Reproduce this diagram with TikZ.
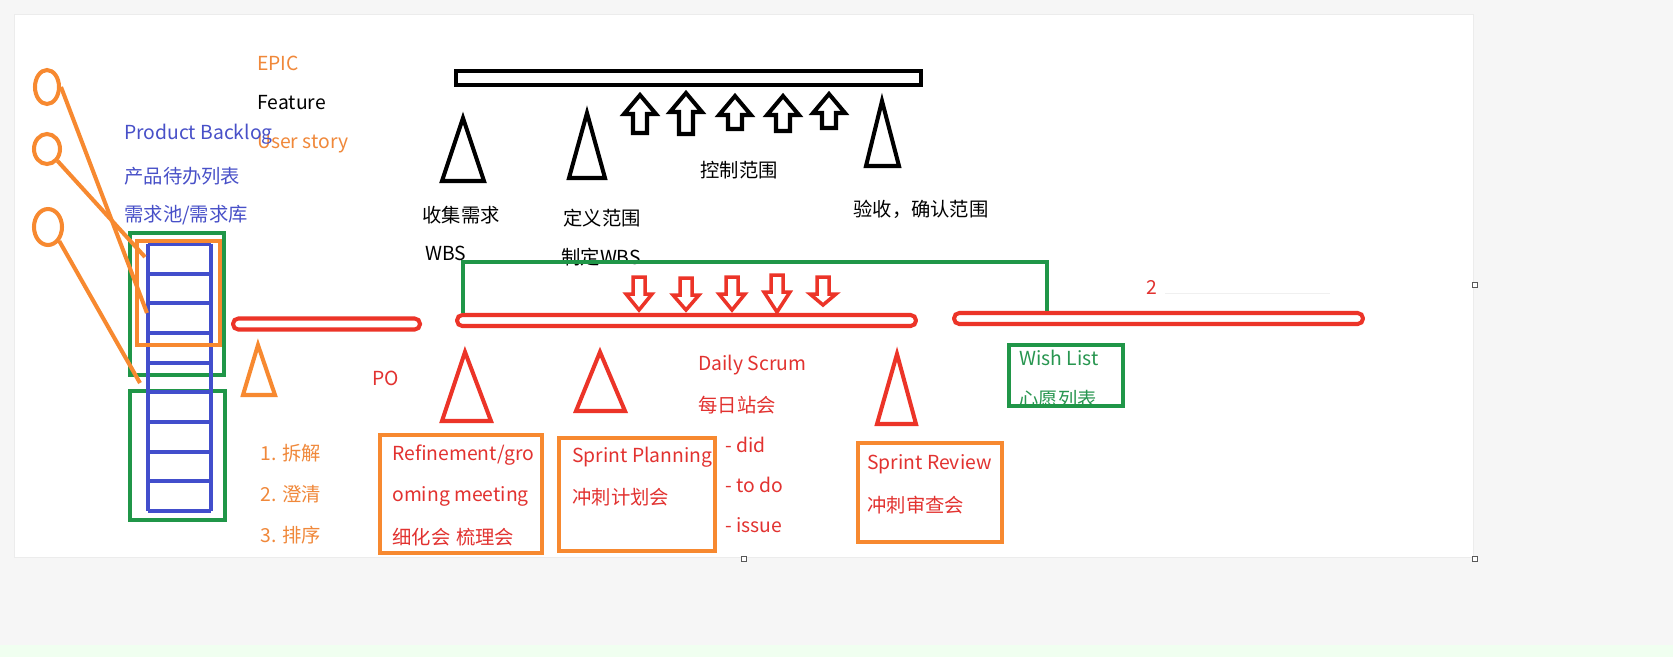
\documentclass[tikz,border=0pt]{standalone}
\usepackage{fontspec}
\setmainfont{Noto Sans CJK SC}
\usetikzlibrary{positioning,shapes.geometric}
\definecolor{rot}{RGB}{236,52,40}
\definecolor{orng}{RGB}{247,137,48}
\definecolor{gruen}{RGB}{32,150,72}
\definecolor{blau}{RGB}{66,78,204}
\definecolor{rottext}{RGB}{226,50,48}
\definecolor{orngtext}{RGB}{240,136,58}
\definecolor{blautext}{RGB}{72,80,200}
\definecolor{gruentext}{RGB}{40,150,80}
\tikzset{>=latex}

\begin{document}
\begin{tikzpicture}[x=0.02cm,y=-0.02cm]
    \fontsize{11}{13}\selectfont
    \tikzset{
      txt/.style={anchor=west, inner sep=0pt},
      pen/.style={line width=2.3pt, line join=miter},
      pill/.style={draw=rot, line width=2.3pt, rounded corners=3pt, inner sep=0pt, minimum height=0.22cm},
      ring/.style={ellipse, draw=orng, line width=2.3pt, inner sep=0pt},
      handle/.style={draw=gray!70!black, fill=white, line width=0.5pt, minimum size=0.1cm, inner sep=0pt},
    }

    % Page.
    \fill[gray!7] (0,0) rectangle (1673,657);
    \useasboundingbox (0,0) rectangle (1673,657);
    \fill[green!6] (0,645) rectangle (1673,657);
    \draw[gray!15, fill=white] (14,14) rectangle (1473,557);
    \node[handle] (h1) at (1475,285) {};
    \node[handle] (h2) at (1475,559) {};
    \node[handle] (h3) at (744,559) {};

    % Backlog ladder.
    \draw[pen, gruen] (130,233) rectangle (224,375);
    \draw[pen, gruen] (130,391) rectangle (225,520);
    \foreach \i in {0,...,9}
      \draw[pen, blau] (148,244+29.67*\i) -- (211,244+29.67*\i);
    \draw[pen, blau] (148,244) -- (148,511);
    \draw[pen, blau] (211,244) -- (211,511);
    \draw[pen, orng] (137,241) rectangle (220,345);

    % Items pointing into the backlog.
    \node[ring, minimum width=0.48cm, minimum height=0.68cm] (c1) at (47,87) {};
    \node[ring, minimum width=0.52cm, minimum height=0.60cm] (c2) at (47,149) {};
    \node[ring, minimum width=0.56cm, minimum height=0.72cm] (c3) at (48,227) {};
    \coordinate (e1) at (147,313);
    \coordinate (e2) at (145,257);
    \coordinate (e3) at (140,383);
    \draw[pen, orng] (c1.east) -- (e1);
    \draw[pen, orng] (c2.south east) -- (e2);
    \draw[pen, orng] (c3.south east) -- (e3);

    % Backlog labels.
    \node[txt, orngtext] (epic) at (257,63) {EPIC};
    \node[txt, black] (feature) at (257,103) {Feature};
    \node[txt, orngtext] (story) at (257,144) {User story};
    \node[txt, blautext] (pb) at (124,134) {Product Backlog};
    \node[txt, blautext] (pbcn) at (124,176) {产品待办列表};
    \node[txt, blautext] (pool) at (124,215) {需求池/需求库};

    % Scope bar and its arrows.
    \draw[line width=2.8pt, black] (456,71) rectangle (921,85);
    \foreach \x/\t/\b in {640/95/133, 686/93/134, 735/96/129, 783/96/131, 829/94/128}
      \draw[pen, black] (\x,\t) -- (\x+16,\t+19) -- (\x+7,\t+19) -- (\x+7,\b)
        -- (\x-7,\b) -- (\x-7,\t+19) -- (\x-16,\t+19) -- cycle;
    \draw[pen, black] (463,118) -- (484,181) -- (442,181) -- cycle;
    \draw[pen, black] (587,113) -- (605,178) -- (569,178) -- cycle;
    \draw[pen, black] (882,101) -- (899,166) -- (866,166) -- cycle;
    \node[txt] (collect) at (422,215) {收集需求};
    \node[txt] (wbs) at (425,253) {WBS};
    \node[txt] (define) at (563,218) {定义范围};
    \node[txt] (makewbs) at (561,257) {制定WBS};
    \node[txt] (control) at (700,170) {控制范围};
    \node[txt] (accept) at (853,209) {验收，确认范围};

    % Sprints.
    \node[pill, minimum width=3.74cm] (backlogbar) at (326.5,324) {};
    \node[pill, minimum width=9.18cm] (sprintA) at (686.5,320.5) {};
    \node[pill, minimum width=8.18cm] (sprintB) at (1158.5,318.5) {};
    \coordinate (bridge) at (760,262);
    \draw[pen, gruen] ([xshift=0.16cm]sprintA.north west) |- (bridge) -| ([xshift=1.9cm]sprintB.north west);
    \foreach \x/\t/\b in {639/277/310, 686/278/310, 732/277/310, 777/275/312, 823/277/305}
      \draw[line width=2pt, rot] (\x-6,\t) -- (\x+6,\t) -- (\x+6,\t+17) -- (\x+13,\t+17)
        -- (\x,\b) -- (\x-13,\t+17) -- (\x-6,\t+17) -- cycle;
    \draw[gray!12] (1165,293) -- (1330,293);
    \node[rottext] (two) at (1152,287) {2};

    % Events.
    \draw[pen, orng] (258,345) -- (275,395) -- (243,395) -- cycle;
    \draw[pen, rot] (465,352) -- (491,421) -- (442,421) -- cycle;
    \draw[pen, rot] (600,352) -- (625,411) -- (576,411) -- cycle;
    \draw[pen, rot] (897,354) -- (916,424) -- (877,424) -- cycle;
    \node[txt, rottext] (po) at (372,378) {PO};
    \node[txt, orngtext] (s1) at (260,453) {1. 拆解};
    \node[txt, orngtext] (s2) at (260,494) {2. 澄清};
    \node[txt, orngtext] (s3) at (260,535) {3. 排序};

    \draw[pen, orng] (380,435) rectangle (542,553);
    \node[txt, rottext] (ref1) at (392,455) {Refinement/gro};
    \node[txt, rottext] (ref2) at (392,496) {oming meeting};
    \node[txt, rottext] (ref3) at (392,537) {细化会\hspace{0.3em}梳理会};

    \draw[pen, orng] (559,438) rectangle (715,551);
    \node[txt, rottext] (plan1) at (572,457) {Sprint Planning};
    \node[txt, rottext] (plan2) at (572,497) {冲刺计划会};

    \node[txt, rottext] (daily1) at (698,365) {Daily Scrum};
    \node[txt, rottext] (daily2) at (698,405) {每日站会};
    \node[txt, rottext] (did) at (725,445) {- did};
    \node[txt, rottext] (todo) at (725,485) {- to do};
    \node[txt, rottext] (issue) at (725,525) {- issue};

    \draw[pen, orng] (858,443) rectangle (1002,542);
    \node[txt, rottext] (rev1) at (867,464) {Sprint Review};
    \node[txt, rottext] (rev2) at (867,505) {冲刺审查会};

    % Wish list.
    \node[txt, gruentext] (wish1) at (1019,358) {Wish List};
    \node[txt, gruentext] (wish2) at (1019,399) {心愿列表};
    \fill[white] (1009,406) rectangle (1123,414);
    \draw[pen, gruen] (1009,345) rectangle (1123,406);
\end{tikzpicture}
\end{document}
